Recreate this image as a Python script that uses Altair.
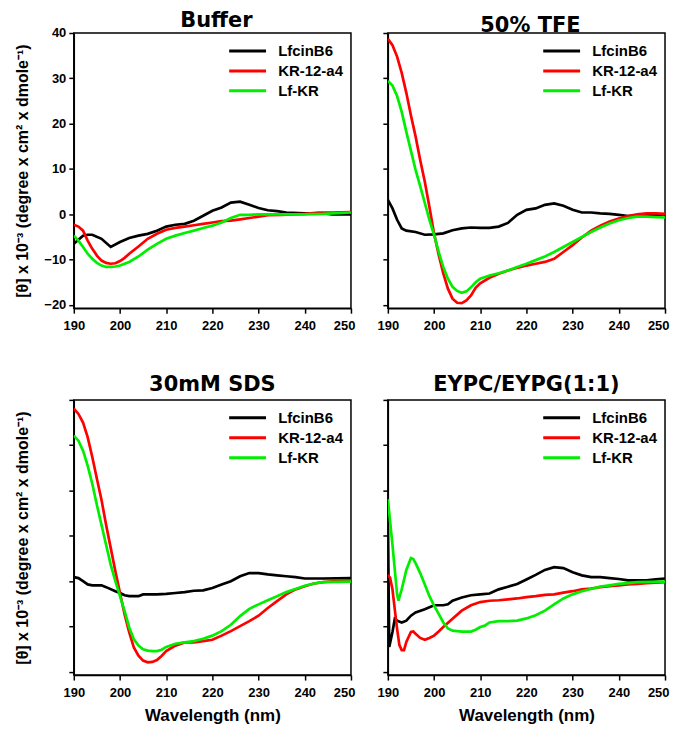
import altair as alt
import pandas as pd

series_names = ["LfcinB6", "KR-12-a4", "Lf-KR"]
series_colors = ["#000000", "#ff0000", "#00ee00"]
panel_titles = ["Buffer", "50% TFE", "30mM SDS", "EYPC/EYPG(1:1)"]
x_ticks = [190, 200, 210, 220, 230, 240, 250]
y_ticks = [-20, -10, 0, 10, 20, 30, 40]
y_title = "[θ] x 10⁻³ (degree x cm² x dmole⁻¹)"
x_title = "Wavelength (nm)"

# ---- Buffer ----
buf_lfcin_x = [190, 192, 193, 194, 196, 198, 200, 202, 204, 206, 208, 210, 212, 214, 216, 218, 220, 222, 224, 226, 228, 230, 232, 234, 236, 240, 244, 246, 250]
buf_lfcin_y = [-6.5, -4.7, -4.5, -4.5, -5.4, -7.2, -6.1, -5.2, -4.7, -4.3, -3.6, -2.7, -2.3, -2.1, -1.4, -0.3, 0.8, 1.5, 2.6, 2.8, 2.1, 1.4, 0.9, 0.7, 0.4, 0.2, 0.2, 0.0, 0.0]
buf_kr_x = [190, 191, 192, 193, 194, 195, 196, 197, 198, 199, 200, 201, 202, 204, 206, 208, 210, 212, 214, 216, 218, 220, 222, 224, 226, 228, 230, 232, 235, 240, 243, 246, 250]
buf_kr_y = [-2.3, -2.7, -3.6, -5.8, -7.6, -9.1, -10.2, -10.7, -10.9, -10.8, -10.3, -9.6, -8.7, -7.1, -5.4, -4.3, -3.4, -3.0, -2.7, -2.4, -2.1, -1.8, -1.5, -1.4, -1.1, -0.8, -0.5, -0.2, -0.1, 0.1, 0.4, 0.4, 0.5]
buf_lfkr_x = [190, 191, 192, 193, 194, 195, 196, 197, 198, 199, 200, 202, 204, 206, 208, 210, 212, 214, 216, 218, 220, 222, 224, 226, 228, 230, 235, 240, 244, 250]
buf_lfkr_y = [-4.7, -5.8, -7.2, -8.7, -9.8, -10.7, -11.3, -11.6, -11.6, -11.5, -11.3, -10.5, -9.3, -7.8, -6.5, -5.4, -4.7, -4.1, -3.6, -3.0, -2.5, -1.8, -0.8, -0.1, -0.1, 0.0, 0.0, 0.0, 0.1, 0.4]

# ---- 50% TFE ----
tfe_lfcin_x = [190, 191, 192, 193, 194, 196, 198, 200, 202, 204, 206, 208, 210, 212, 214, 216, 218, 220, 222, 224, 226, 228, 230, 232, 234, 236, 238, 240, 242, 246, 250]
tfe_lfcin_y = [3.2, 1.3, -1.2, -3.1, -3.6, -3.9, -4.5, -4.4, -4.2, -3.5, -3.1, -2.9, -3.0, -3.0, -2.7, -1.9, -0.1, 1.0, 1.3, 2.1, 2.4, 1.9, 1.0, 0.4, 0.4, 0.2, 0.1, -0.1, -0.4, -0.1, 0.0]
tfe_kr_x = [190, 191, 192, 193, 194, 195, 196, 197, 198, 199, 200, 201, 202, 203, 204, 205, 206, 207, 208, 209, 210, 212, 214, 216, 218, 220, 222, 224, 226, 228, 230, 232, 234, 236, 238, 240, 242, 244, 246, 248, 250]
tfe_kr_y = [38.7, 37.3, 34.8, 31.2, 26.8, 21.8, 17.2, 12.0, 7.2, 1.6, -4.2, -8.9, -13.0, -16.4, -18.6, -19.5, -19.6, -19.0, -17.9, -16.2, -15.2, -14.0, -13.1, -12.4, -11.8, -11.3, -10.9, -10.5, -9.8, -8.3, -6.8, -5.1, -3.6, -2.5, -1.6, -0.9, -0.4, 0.0, 0.2, 0.2, 0.1]
tfe_lfkr_x = tfe_kr_x
tfe_lfkr_y = [29.4, 28.4, 26.1, 22.6, 18.2, 14.0, 9.8, 6.2, 2.5, -1.2, -4.5, -8.3, -11.6, -14.2, -16.0, -16.9, -17.3, -17.0, -16.1, -15.0, -14.2, -13.5, -13.0, -12.4, -11.6, -10.9, -10.1, -9.3, -8.3, -7.2, -6.1, -5.0, -3.9, -2.9, -2.0, -1.3, -0.8, -0.5, -0.5, -0.6, -0.7]

# ---- 30mM SDS ----
sds_lfcin_x = [190, 191, 192, 193, 194, 196, 197, 199, 200, 201, 202, 204, 205, 207, 208, 210, 212, 214, 216, 218, 220, 222, 224, 226, 228, 230, 232, 234, 236, 238, 240, 244, 250]
sds_lfcin_y = [0.9, 0.7, 0.0, -0.7, -0.9, -0.9, -1.3, -2.2, -2.6, -3.1, -3.3, -3.3, -2.9, -2.9, -2.9, -2.8, -2.6, -2.4, -2.1, -2.0, -1.5, -0.7, 0.0, 1.1, 1.8, 1.8, 1.5, 1.3, 1.1, 0.9, 0.6, 0.6, 0.7]
sds_kr_x = [190, 191, 192, 193, 194, 195, 196, 197, 198, 199, 200, 201, 202, 203, 204, 205, 206, 207, 208, 209, 210, 212, 214, 216, 218, 220, 222, 224, 226, 228, 230, 232, 234, 236, 238, 240, 242, 244, 246, 250]
sds_kr_y = [38.1, 36.9, 35.0, 31.8, 27.4, 22.6, 17.9, 12.4, 7.3, 2.2, -2.6, -7.3, -11.3, -14.6, -16.4, -17.5, -17.9, -17.8, -17.4, -16.5, -15.4, -14.2, -13.5, -13.5, -13.2, -12.9, -12.0, -11.0, -9.9, -8.8, -7.6, -5.9, -4.4, -2.9, -1.8, -1.1, -0.5, -0.2, 0.0, 0.2]
sds_lfkr_x = [190, 191, 192, 193, 194, 195, 196, 197, 198, 199, 200, 201, 202, 203, 204, 205, 206, 207, 208, 209, 210, 212, 214, 216, 218, 220, 222, 224, 226, 228, 230, 232, 234, 236, 238, 240, 242, 244, 250]
sds_lfkr_y = [32.1, 31.0, 28.8, 25.5, 21.5, 16.8, 12.4, 8.0, 3.6, 0.0, -3.3, -6.6, -10.2, -12.8, -14.2, -15.0, -15.3, -15.4, -15.4, -15.1, -14.5, -13.8, -13.5, -13.2, -12.7, -12.0, -11.0, -9.6, -7.7, -6.1, -5.1, -4.2, -3.3, -2.4, -1.7, -1.0, -0.5, -0.2, -0.1]

# ---- EYPC/EYPG(1:1) ----
lip_lfcin_x = [190, 190.3, 191, 191.5, 192, 193, 194, 195, 196, 198, 200, 202, 203, 204, 206, 208, 210, 212, 214, 216, 218, 220, 222, 224, 226, 228, 230, 232, 234, 236, 238, 240, 242, 246, 248, 250]
lip_lfcin_y = [14.0, -14.5, -11.2, -8.3, -8.7, -9.1, -8.7, -7.6, -6.9, -6.2, -5.3, -5.3, -5.1, -4.3, -3.6, -3.1, -2.9, -2.7, -1.8, -1.2, -0.6, 0.4, 1.4, 2.5, 3.1, 2.9, 2.0, 1.3, 0.9, 0.9, 0.7, 0.5, 0.2, 0.2, 0.4, 0.6]
lip_kr_x = [190, 190.5, 191, 191.5, 192, 192.5, 193, 193.5, 194, 195, 195.5, 196, 197, 198, 199, 200, 201, 202, 204, 206, 208, 210, 212, 214, 216, 218, 220, 222, 224, 226, 228, 230, 232, 234, 236, 238, 240, 242, 244, 246, 250]
lip_kr_y = [1.4, 0.7, -1.8, -6.2, -10.5, -14.1, -15.2, -15.2, -13.4, -11.2, -11.1, -11.6, -12.5, -12.9, -12.5, -12.0, -11.1, -10.1, -8.3, -6.5, -5.3, -4.6, -4.3, -4.2, -4.0, -3.8, -3.5, -3.3, -3.0, -2.9, -2.5, -2.2, -1.8, -1.6, -1.3, -1.1, -0.9, -0.7, -0.6, -0.4, -0.2]
lip_lfkr_x = [190, 191, 192, 192.3, 193, 194, 195, 195.5, 196, 197, 198, 199, 200, 201, 202, 203, 204, 206, 208, 209, 210, 211, 212, 214, 216, 218, 220, 222, 224, 226, 228, 230, 232, 234, 236, 238, 240, 242, 244, 250]
lip_lfkr_y = [18.1, 8.0, -2.9, -4.3, -1.8, 2.5, 5.1, 4.9, 4.0, 1.8, -0.7, -3.3, -5.4, -7.2, -9.1, -10.4, -10.9, -11.1, -11.1, -10.7, -10.1, -9.8, -9.1, -8.8, -8.8, -8.7, -8.2, -7.5, -6.5, -5.1, -3.8, -2.9, -2.2, -1.7, -1.2, -0.9, -0.6, -0.4, -0.2, -0.1]

panels = [
    [(buf_lfcin_x, buf_lfcin_y), (buf_kr_x, buf_kr_y), (buf_lfkr_x, buf_lfkr_y)],
    [(tfe_lfcin_x, tfe_lfcin_y), (tfe_kr_x, tfe_kr_y), (tfe_lfkr_x, tfe_lfkr_y)],
    [(sds_lfcin_x, sds_lfcin_y), (sds_kr_x, sds_kr_y), (sds_lfkr_x, sds_lfkr_y)],
    [(lip_lfcin_x, lip_lfcin_y), (lip_kr_x, lip_kr_y), (lip_lfkr_x, lip_lfkr_y)],
]

LABEL_FONT = "Liberation Sans, Arial"
TEXT_FONT = "Liberation Sans, Arial"
TITLE_FONT = "DejaVu Sans"

W, H = 278, 276


def make_panel(i):
    rows = []
    for s, (xs, ys) in enumerate(panels[i]):
        for k, (xv, yv) in enumerate(zip(xs, ys)):
            rows.append({"wavelength": xv, "value": yv, "series": series_names[s], "sidx": s, "k": k})
    df = pd.DataFrame(rows)
    left = i in (0, 2)
    bottom = i in (2, 3)
    x_axis_kw = dict(
        values=x_ticks,
        format="d",
        labelPadding=6,
        labelFlush=False,
        labelAlign={"condition": {"test": "datum.value == 250", "value": "right"}, "value": "center"},
        labelOffset={"condition": {"test": "datum.value == 250", "value": 4}, "value": 0},
    )
    if bottom:
        x_axis_kw.update(title=x_title, titlePadding=9)
    else:
        x_axis_kw.update(title=None)
    y_axis_kw = dict(values=y_ticks, format="d", labels=(i == 0), labelPadding=3, labelFlush=False)
    if left:
        y_axis_kw.update(title=y_title, titleX=-43, titleY=H / 2)
    else:
        y_axis_kw.update(title=None)
    legend = alt.Legend(
        title=None,
        orient="none",
        legendX=154,
        legendY=10,
        padding=0,
        symbolType="M-1,0H5",
        symbolSize=152,
        symbolStrokeWidth=3,
        labelOffset=35,
        labelFont=TEXT_FONT,
        labelFontWeight="bold",
        labelFontSize=15,
        labelColor="black",
        rowPadding=4,
    )
    chart = (
        alt.Chart(df)
        .mark_line(strokeWidth=2.7, clip=True)
        .encode(
            x=alt.X("wavelength:Q", scale=alt.Scale(domain=[190, 250], nice=False, zero=False), axis=alt.Axis(**x_axis_kw)),
            y=alt.Y("value:Q", scale=alt.Scale(domain=[-20.7, 40], nice=False, zero=False), axis=alt.Axis(**y_axis_kw)),
            color=alt.Color("series:N", scale=alt.Scale(domain=series_names, range=series_colors), legend=legend),
            order=alt.Order("k:Q"),
        )
        .properties(
            width=W,
            height=H,
            title=alt.TitleParams(
                panel_titles[i],
                font=TITLE_FONT,
                fontSize=21,
                fontWeight="bold",
                color="black",
                anchor="middle",
                frame="group",
                offset=-4 if i < 2 else 4,
                dx=4 if i < 2 else 0,
            ),
        )
    )
    return chart


chart = (
    alt.concat(*[make_panel(i) for i in range(4)], columns=2, spacing={"row": 92, "column": 37}, bounds="flush")
    .resolve_legend(color="independent")
    .properties(padding={"left": 6, "top": 0, "right": 0, "bottom": 0})
    .configure_view(stroke="black", strokeWidth=1.5)
    .configure_axis(
        grid=False,
        domainColor="black",
        domainWidth=1.5,
        tickColor="black",
        tickWidth=1.5,
        tickSize=5,
        labelFont=LABEL_FONT,
        labelFontWeight="bold",
        labelFontSize=13,
        labelColor="black",
        titleFont=TEXT_FONT,
        titleFontWeight="bold",
        titleFontSize=16,
        titleColor="black",
    )
    .configure_axisX(titleFontSize=17)
)

chart.save("out.html", embed_options={"renderer": "svg", "actions": False})
